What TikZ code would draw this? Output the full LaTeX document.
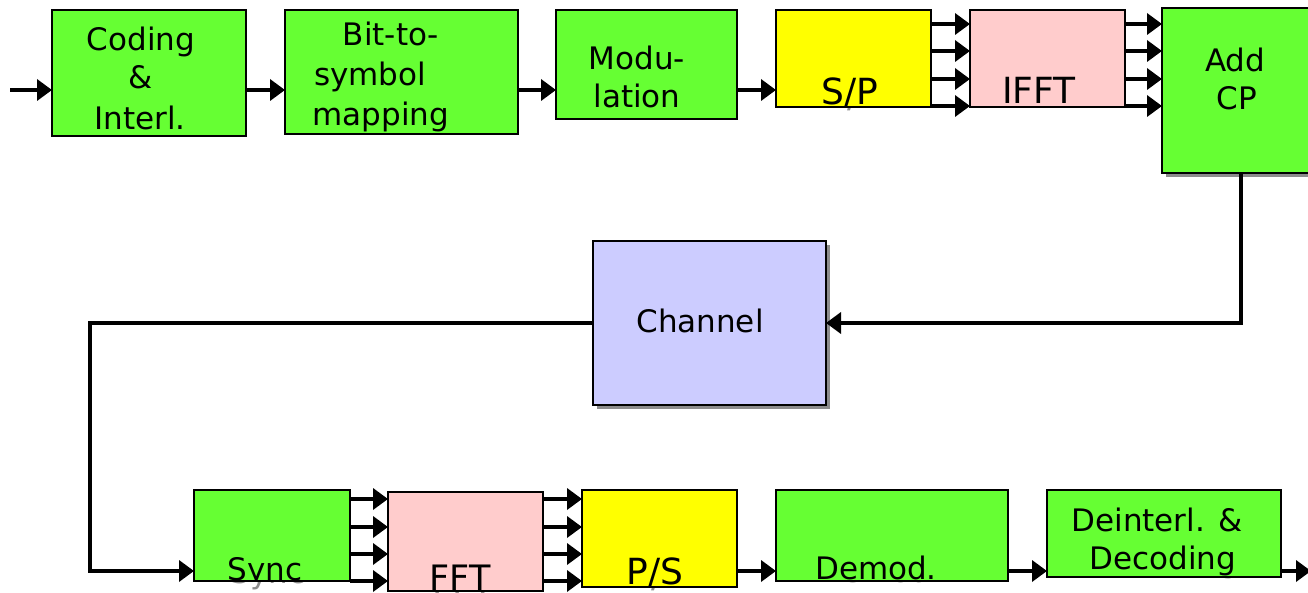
\documentclass[tikz,border=0pt]{standalone}
\usepackage{fontspec}
\setmainfont{DejaVu Sans}
\usetikzlibrary{arrows.meta,shadows}

\definecolor{blkgreen}{HTML}{66FF33}
\definecolor{blkyellow}{HTML}{FFFF00}
\definecolor{blkpink}{HTML}{FFCCCC}
\definecolor{blkblue}{HTML}{CCCCFF}
\definecolor{ghost}{HTML}{8C8C8C}

\tikzset{
  blk/.style={draw=black, line width=2.2pt, inner sep=0pt, outer sep=0pt},
  green/.style={fill=blkgreen},
  yellow/.style={fill=blkyellow},
  pink/.style={fill=blkpink},
  lav/.style={fill=blkblue},
  shade/.style={drop shadow={shadow xshift=4pt, shadow yshift=-4pt, fill=ghost, opacity=1}},
  lbl/.style={anchor=base, inner sep=0pt, outer sep=0pt},
  arr/.style={line width=3.6pt, -{Triangle[length=15pt,width=21pt]}},
}

% #1 name, #2 box style, #3..#6 box corners (left, top, right, bottom),
% #7 font size, #8 text lines as x/baseline/text
\newcommand\placeblock[8]{%
  \foreach \lx/\ly/\lt [count=\i] in {#8}
    \node[lbl, font=\fontsize{#7}{#7}\selectfont, text=ghost]
      (#1-g\i) at ({\lx+3},{-\ly-3}) {\lt};
  \node[blk, #2, minimum width={#5-#3}, minimum height={#6-#4}]
    (#1) at ({(#3+#5)/2},{-(#4+#6)/2}) {};
  \begin{scope}
    \clip (#1.south west) rectangle (#1.north east);
    \foreach \lx/\ly/\lt [count=\i] in {#8}
      \node[lbl, font=\fontsize{#7}{#7}\selectfont]
        (#1-t\i) at (\lx,-\ly) {\lt};
  \end{scope}}

\begin{document}
\begin{tikzpicture}[x=1pt,y=1pt]
\useasboundingbox (0,0) rectangle (1308,-593);
\clip (0,0) rectangle (1308,-593);

% transmitter chain
\placeblock{code}{green}{52}{10}{246}{136}{31}{141/51/Coding, 141/89/\&, 140/130/Interl.}
\placeblock{bts}{green}{285}{10}{518}{134}{31}{391/46/Bit-to-, 370/86/symbol, 381/126/mapping}
\placeblock{mod}{green}{556}{10}{737}{119}{31}{637/70/Modu-, 637/108/lation}
\placeblock{sp}{yellow}{776}{10}{931}{107}{36}{850/105/{S/P}}
\placeblock{ifft}{pink}{970}{10}{1125}{107}{36}{1039/104/IFFT}
\placeblock{acp}{green,shade}{1162}{8}{1320}{173}{31}{1235/72/Add, 1237/110/CP}

% channel
\placeblock{chan}{lav,shade}{593}{241}{826}{405}{31}{700/332/Channel}

% receiver chain
\placeblock{sync}{green}{194}{490}{350}{581}{31}{265/580/Sync}
\placeblock{fft}{pink}{388}{492}{543}{591}{35}{460/590/FFT}
\placeblock{ps}{yellow}{582}{490}{737}{587}{36}{655/584/{P/S}}
\placeblock{dem}{green}{776}{490}{1008}{581}{31}{876/579/Demod.}
\placeblock{dec}{green}{1047}{490}{1281}{577}{31}{1157/531/Deinterl. \&, 1163/569/Decoding}

% connectors, top row
\coordinate (in) at (10,-90);
\draw[arr] (in) -- (code.west |- in);
\draw[arr] (code.east |- in) -- (bts.west |- in);
\draw[arr] (bts.east |- in) -- (mod.west |- in);
\draw[arr] (mod.east |- in) -- (sp.west |- in);
\foreach \yy in {24,51,79,106} {
  \draw[arr] (sp.east |- 0,-\yy) -- (ifft.west |- 0,-\yy);
  \draw[arr] (ifft.east |- 0,-\yy) -- (acp.west |- 0,-\yy);
}

% through the channel
\coordinate (turn) at (90,-571);
\draw[arr] (acp.south) |- (chan.east);
\draw[arr] (chan.west) -| (turn) -- (sync.west |- turn);

% connectors, bottom row
\foreach \yy in {499,527,554,581} {
  \draw[arr] (sync.east |- 0,-\yy) -- (fft.west |- 0,-\yy);
  \draw[arr] (fft.east |- 0,-\yy) -- (ps.west |- 0,-\yy);
}
\coordinate (out) at (1311,-571);
\draw[arr] (ps.east |- turn) -- (dem.west |- turn);
\draw[arr] (dem.east |- turn) -- (dec.west |- turn);
\draw[arr] (dec.east |- turn) -- (out);
\end{tikzpicture}
\end{document}
